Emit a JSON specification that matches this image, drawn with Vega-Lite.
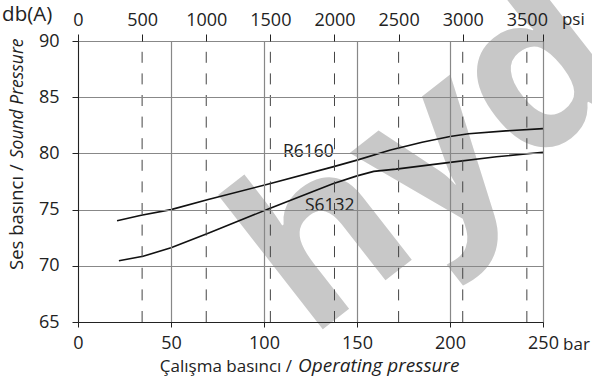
{
  "$schema": "https://vega.github.io/schema/vega-lite/v6.json",
  "width": 465,
  "height": 281,
  "autosize": {"type": "none"},
  "padding": {"left": 78, "top": 41, "right": 49, "bottom": 63},
  "background": "white",
  "config": {
    "view": {"stroke": null},
    "axis": {
      "labelFont": "Open Sans",
      "labelFontSize": 18,
      "labelColor": "#222",
      "labelFlush": false,
      "domainColor": "#222",
      "domainWidth": 1,
      "tickColor": "#222",
      "tickWidth": 1,
      "gridColor": "#888",
      "gridWidth": 1.2
    },
    "text": {"font": "Open Sans", "fontSize": 17.5, "color": "#222"}
  },
  "datasets": {
    "curves": [
      {"series": "R6160", "bar": 21, "db": 74.0},
      {"series": "R6160", "bar": 34, "db": 74.5},
      {"series": "R6160", "bar": 50, "db": 75.0},
      {"series": "R6160", "bar": 70, "db": 75.9},
      {"series": "R6160", "bar": 103, "db": 77.3},
      {"series": "R6160", "bar": 137, "db": 78.8},
      {"series": "R6160", "bar": 150, "db": 79.4},
      {"series": "R6160", "bar": 168, "db": 80.3},
      {"series": "R6160", "bar": 185, "db": 81.0},
      {"series": "R6160", "bar": 200, "db": 81.5},
      {"series": "R6160", "bar": 210, "db": 81.75},
      {"series": "R6160", "bar": 230, "db": 82.0},
      {"series": "R6160", "bar": 250, "db": 82.2},
      {"series": "S6132", "bar": 22, "db": 70.45},
      {"series": "S6132", "bar": 35, "db": 70.85},
      {"series": "S6132", "bar": 50, "db": 71.6},
      {"series": "S6132", "bar": 70, "db": 72.9},
      {"series": "S6132", "bar": 103, "db": 75.1},
      {"series": "S6132", "bar": 137, "db": 77.3},
      {"series": "S6132", "bar": 150, "db": 78.0},
      {"series": "S6132", "bar": 159, "db": 78.4},
      {"series": "S6132", "bar": 171, "db": 78.6},
      {"series": "S6132", "bar": 200, "db": 79.2},
      {"series": "S6132", "bar": 225, "db": 79.7},
      {"series": "S6132", "bar": 250, "db": 80.1}
    ],
    "curveLabels": [
      {"label": "R6160", "bar": 110.2, "db": 79.7},
      {"label": "S6132", "bar": 122, "db": 74.9}
    ],
    "psiLines": [
      {"psi": 500}, {"psi": 1000}, {"psi": 1500}, {"psi": 2000},
      {"psi": 2500}, {"psi": 3000}, {"psi": 3500}
    ],
    "watermark": [{"t": "hyd", "bar": 124.2, "db": 63.4}]
  },
  "resolve": {"scale": {"x": "independent"}, "axis": {"x": "independent"}},
  "layer": [
    {
      "layer": [
        {
          "data": {"name": "watermark"},
          "mark": {"type": "text", "font": "Open Sans", "fontWeight": "bold", "fontSize": 224, "angle": 322, "align": "left", "baseline": "alphabetic", "color": "#c8c8c8"},
          "encoding": {
            "x": {"field": "bar", "type": "quantitative", "title": null, "scale": {"domain": [0, 250], "nice": false, "zero": false}, "axis": {"orient": "bottom", "values": [0, 50, 100, 150, 200, 250], "grid": true, "tickSize": 5, "labelPadding": 7, "zindex": 1}},
            "y": {"field": "db", "type": "quantitative", "title": null, "scale": {"domain": [65, 90], "nice": false, "zero": false}, "axis": {"orient": "left", "values": [65, 70, 75, 80, 85, 90], "grid": true, "tickSize": 6, "labelPadding": 13, "zindex": 1}},
            "text": {"field": "t"}
          }
        },
        {
          "data": {"name": "curves"},
          "mark": {"type": "line", "color": "#111", "strokeWidth": 1.6},
          "encoding": {
            "x": {"field": "bar", "type": "quantitative", "title": null},
            "y": {"field": "db", "type": "quantitative", "title": null},
            "detail": {"field": "series"}
          }
        },
        {
          "data": {"name": "curveLabels"},
          "mark": {"type": "text", "align": "left", "baseline": "alphabetic"},
          "encoding": {
            "x": {"field": "bar", "type": "quantitative", "title": null},
            "y": {"field": "db", "type": "quantitative", "title": null},
            "text": {"field": "label"}
          }
        },
        {
          "data": {"values": [{"t": "Çalışma basıncı /", "bar": 116.7, "db": 60.55}]},
          "mark": {"type": "text", "align": "right", "baseline": "alphabetic", "dx": -3, "fontSize": 17},
          "encoding": {
            "x": {"field": "bar", "type": "quantitative", "title": null},
            "y": {"field": "db", "type": "quantitative", "title": null},
            "text": {"field": "t"}
          }
        },
        {
          "data": {"values": [{"t": "Operating pressure", "bar": 116.7, "db": 60.55}]},
          "mark": {"type": "text", "align": "left", "baseline": "alphabetic", "dx": 3, "fontStyle": "italic", "fontSize": 19},
          "encoding": {
            "x": {"field": "bar", "type": "quantitative", "title": null},
            "y": {"field": "db", "type": "quantitative", "title": null},
            "text": {"field": "t"}
          }
        },
        {
          "data": {"values": [{"t": "Ses basıncı /", "bar": -29.6, "db": 79.3}]},
          "mark": {"type": "text", "align": "right", "baseline": "alphabetic", "angle": 270, "dx": -3, "fontSize": 18.5},
          "encoding": {
            "x": {"field": "bar", "type": "quantitative", "title": null},
            "y": {"field": "db", "type": "quantitative", "title": null},
            "text": {"field": "t"}
          }
        },
        {
          "data": {"values": [{"t": "Sound Pressure", "bar": -29.6, "db": 79.3}]},
          "mark": {"type": "text", "align": "left", "baseline": "alphabetic", "angle": 270, "dx": 3, "fontStyle": "italic"},
          "encoding": {
            "x": {"field": "bar", "type": "quantitative", "title": null},
            "y": {"field": "db", "type": "quantitative", "title": null},
            "text": {"field": "t"}
          }
        },
        {
          "data": {"values": [{"t": "db(A)", "bar": -40.8, "db": 91.82}]},
          "mark": {"type": "text", "align": "left", "baseline": "alphabetic", "fontSize": 20.5},
          "encoding": {
            "x": {"field": "bar", "type": "quantitative", "title": null},
            "y": {"field": "db", "type": "quantitative", "title": null},
            "text": {"field": "t"}
          }
        },
        {
          "data": {"values": [
            {"t": "psi", "bar": 260.2, "db": 91.42},
            {"t": "bar", "bar": 260.8, "db": 62.5}
          ]},
          "mark": {"type": "text", "align": "left", "baseline": "alphabetic", "fontSize": 17},
          "encoding": {
            "x": {"field": "bar", "type": "quantitative", "title": null},
            "y": {"field": "db", "type": "quantitative", "title": null},
            "text": {"field": "t"}
          }
        }
      ]
    },
    {
      "data": {"name": "psiLines"},
      "mark": {"type": "rule", "color": "#444", "strokeWidth": 1, "strokeDash": [11, 10.6]},
      "encoding": {
        "x": {"field": "psi", "type": "quantitative", "title": null, "scale": {"domain": [0, 3625.94], "nice": false, "zero": false},
              "axis": {"orient": "top", "values": [0, 500, 1000, 1500, 2000, 2500, 3000, 3500, 3625.94], "labelExpr": "datum.value > 3600 ? '' : datum.label", "format": "d", "grid": false, "domain": false, "tickSize": 7, "labelPadding": 5, "zindex": 1}},
        "y": {"datum": 65},
        "y2": {"datum": 90}
      }
    }
  ]
}
